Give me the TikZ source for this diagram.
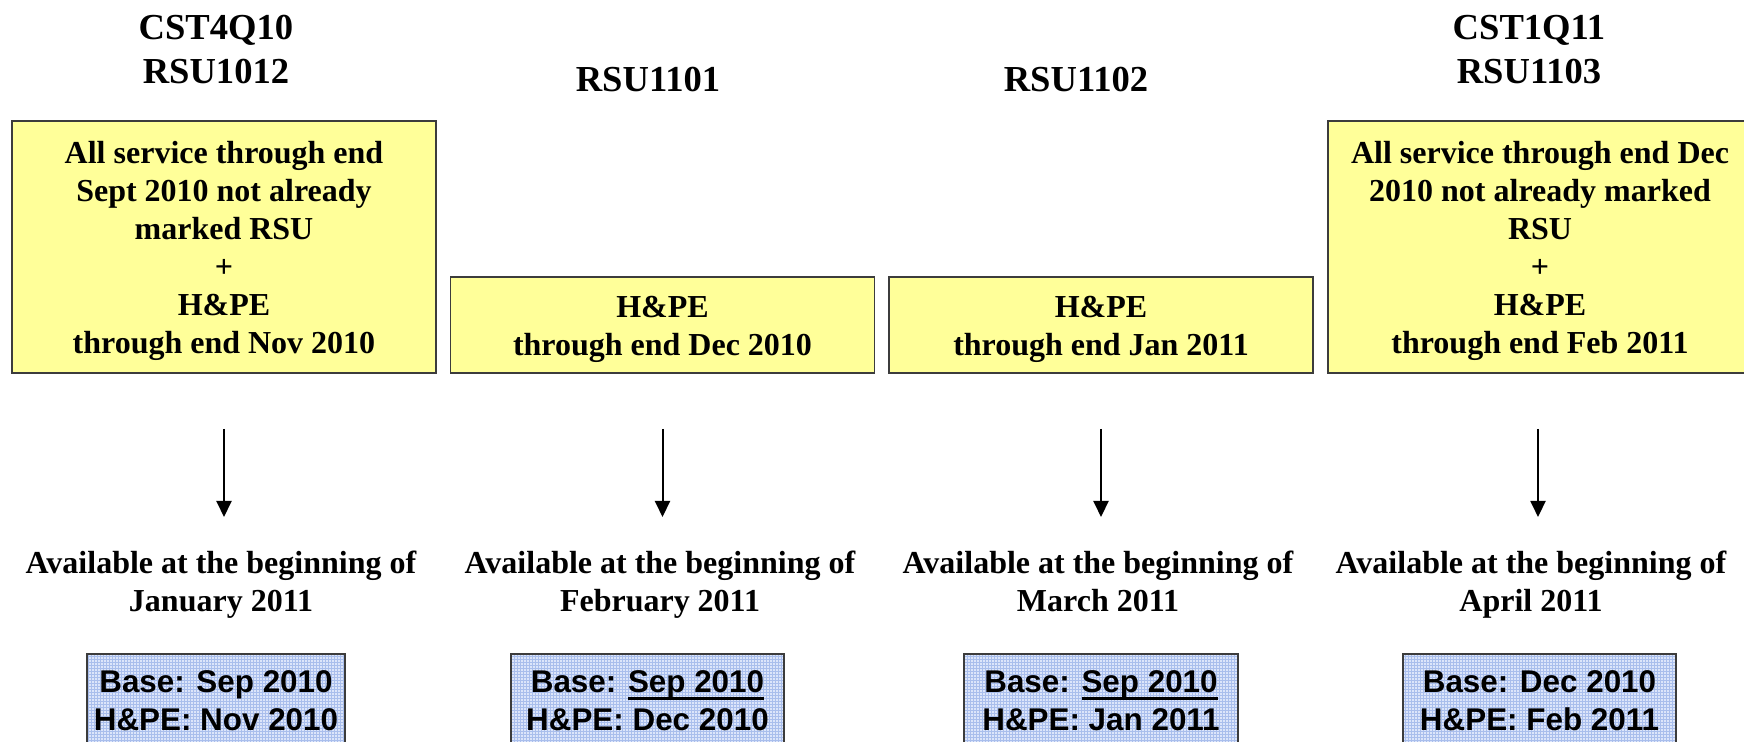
\documentclass[tikz,border=0pt]{standalone}
\usepackage{fontspec}
\setmainfont{Liberation Serif}
\setsansfont{Liberation Sans}
\usetikzlibrary{arrows.meta}
\definecolor{boxYellow}{HTML}{FFFF99}
\definecolor{boxLine}{HTML}{3C3C3C}
\definecolor{baseBlue}{HTML}{DCE5FA}
\definecolor{gridBlue}{HTML}{A9BEEC}
\newcommand{\uln}[1]{\setbox0\hbox{#1}\rlap{\rule[-3.75pt]{\wd0}{1.5pt}}\box0}
\newcommand{\topstrut}{\rule{0pt}{15.5pt}}
\begin{document}
\begin{tikzpicture}
        [x=0.5pt, y=-0.5pt,
        title/.style={font=\fontsize{18.3}{22}\selectfont\bfseries, align=center, inner sep=0},
        yellowBox/.style={draw=boxLine, line width=0.8pt, fill=boxYellow, minimum width=212pt, inner sep=0, align=center, font=\fontsize{16}{19}\selectfont\bfseries},
        avail/.style={font=\fontsize{16}{19}\selectfont\bfseries, align=center, inner sep=0, anchor=north},
        baseBox/.style={draw=boxLine, line width=0.8pt, fill=baseBlue, minimum height=47pt, inner sep=0, align=center, font=\fontsize{15.7}{19}\selectfont\sffamily\bfseries,
          path picture={\draw[gridBlue, line width=0.3pt, step=1.5pt] (path picture bounding box.south west) grid (path picture bounding box.north east);}},
        arr/.style={line width=1pt, -{Triangle[width=7.5pt,length=8pt]}}]
        \useasboundingbox[fill=white] (0,0) rectangle (1744,742);

        \node[title] (T1) at (216,50) {CST4Q10\\RSU1012};
        \node[title, anchor=base] (T2) at (648,92) {RSU1101};
        \node[title, anchor=base] (T3) at (1076,92) {RSU1102};
        \node[title] (T4) at (1529,50) {CST1Q11\\RSU1103};

        \node[yellowBox, minimum height=126pt] (Y1) at (224,247) {\topstrut All service through end\\Sept 2010 not already\\marked RSU\\+\\H\&PE\\through end Nov 2010};
        \node[yellowBox, minimum height=48pt] (Y2) at (662.5,325) {\topstrut H\&PE\\through end Dec 2010};
        \node[yellowBox, minimum height=48pt] (Y3) at (1101,325) {\topstrut H\&PE\\through end Jan 2011};
        \node[yellowBox, minimum height=126pt] (Y4) at (1540,247) {\topstrut All service through end Dec\\2010 not already marked\\RSU\\+\\H\&PE\\through end Feb 2011};

        \node[avail] (A1) at (221,551) {Available at the beginning of\\January 2011};
        \node[avail] (A2) at (660,551) {Available at the beginning of\\February 2011};
        \node[avail] (A3) at (1098,551) {Available at the beginning of\\March 2011};
        \node[avail] (A4) at (1531,551) {Available at the beginning of\\April 2011};

        \node[baseBox, minimum width=129pt] (B1) at (216,701) {Base: Sep 2010\\H\&PE: Nov 2010};
        \node[baseBox, minimum width=136.5pt] (B2) at (647.5,701) {Base: \uln{Sep 2010}\\H\&PE: Dec 2010};
        \node[baseBox, minimum width=137pt] (B3) at (1101,701) {Base: \uln{Sep 2010}\\H\&PE: Jan 2011};
        \node[baseBox, minimum width=136.5pt] (B4) at (1539.5,701) {Base: Dec 2010\\H\&PE: Feb 2011};

        \draw[arr, shorten <=27.5pt, shorten >=17pt] (Y1.south) -- (Y1.south |- A1.north);
        \draw[arr, shorten <=27.5pt, shorten >=17pt] (Y2.south) -- (Y2.south |- A2.north);
        \draw[arr, shorten <=27.5pt, shorten >=17pt] (Y3.south) -- (Y3.south |- A3.north);
        \draw[arr, shorten <=27.5pt, shorten >=17pt] ([xshift=-1pt]Y4.south) -- ([xshift=-1pt]Y4.south |- A4.north);
    \end{tikzpicture}
\end{document}
